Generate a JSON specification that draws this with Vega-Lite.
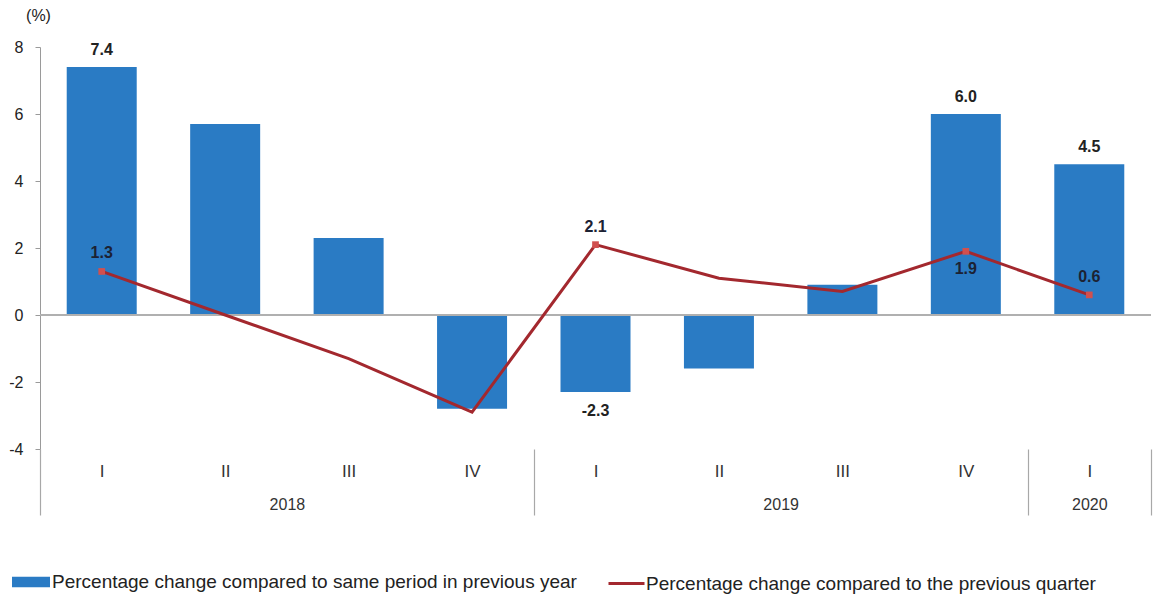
{
  "$schema": "https://vega.github.io/schema/vega-lite/v6.json",
  "width": 1111,
  "height": 402,
  "autosize": {"type": "none"},
  "padding": {"left": 40, "top": 47, "right": 2, "bottom": 146},
  "background": "white",
  "config": {
    "view": {"stroke": null},
    "font": "Liberation Sans",
    "axisY": {
      "grid": false,
      "domainColor": "#9a9a9a",
      "tickColor": "#9a9a9a",
      "tickSize": 5,
      "labelFontSize": 16,
      "labelColor": "#222222",
      "labelPadding": 12,
      "labelExpr": "'' + datum.value",
      "titleAngle": 0,
      "titleAlign": "center",
      "titleBaseline": "middle",
      "titleX": -2,
      "titleY": -32,
      "titleFontSize": 16,
      "titleFontWeight": "normal",
      "titleColor": "#222222"
    },
    "legend": {"padding": 0, "labelFont": "Liberation Sans", "labelFontSize": 19, "labelColor": "#222222", "labelLimit": 0}
  },
  "data": {
    "values": [
      {"idx": 1, "year": 2018, "quarter": "I", "yoy": 7.4, "qoq": 1.3, "yoy_label": "7.4", "qoq_label": "1.3"},
      {"idx": 2, "year": 2018, "quarter": "II", "yoy": 5.7, "qoq": 0.0, "yoy_label": null, "qoq_label": null},
      {"idx": 3, "year": 2018, "quarter": "III", "yoy": 2.3, "qoq": -1.3, "yoy_label": null, "qoq_label": null},
      {"idx": 4, "year": 2018, "quarter": "IV", "yoy": -2.8, "qoq": -2.9, "yoy_label": null, "qoq_label": null},
      {"idx": 5, "year": 2019, "quarter": "I", "yoy": -2.3, "qoq": 2.1, "yoy_label": "-2.3", "qoq_label": "2.1"},
      {"idx": 6, "year": 2019, "quarter": "II", "yoy": -1.6, "qoq": 1.1, "yoy_label": null, "qoq_label": null},
      {"idx": 7, "year": 2019, "quarter": "III", "yoy": 0.9, "qoq": 0.7, "yoy_label": null, "qoq_label": null},
      {"idx": 8, "year": 2019, "quarter": "IV", "yoy": 6.0, "qoq": 1.9, "yoy_label": "6.0", "qoq_label": "1.9"},
      {"idx": 9, "year": 2020, "quarter": "I", "yoy": 4.5, "qoq": 0.6, "yoy_label": "4.5", "qoq_label": "0.6"}
    ]
  },
  "resolve": {"axis": {"x": "independent"}},
  "layer": [
    {
      "mark": {"type": "bar", "width": 70},
      "encoding": {
        "x": {
          "field": "idx", "type": "quantitative",
          "scale": {"domain": [0.5, 9.5], "nice": false, "zero": false, "padding": 0},
          "axis": {
            "orient": "bottom",
            "values": [1, 2, 3, 4, 5, 6, 7, 8, 9],
            "labelExpr": "['I','II','III','IV','I','II','III','IV','I'][datum.value - 1]",
            "ticks": false, "tickSize": 0, "domain": false, "grid": false,
            "labelPadding": 14, "labelFontSize": 17, "labelColor": "#333333",
            "labelFlush": false, "labelOverlap": false, "title": null
          }
        },
        "y": {
          "field": "yoy", "type": "quantitative", "title": "(%)",
          "scale": {"domain": [-4, 8], "nice": false},
          "axis": {"values": [-4, -2, 0, 2, 4, 6, 8]}
        },
        "fill": {
          "datum": "Percentage change compared to same period in previous year",
          "scale": {"range": ["#2a7bc4"]},
          "legend": {
            "orient": "none", "legendX": -28, "legendY": 516,
            "symbolType": "M-1,-0.27H1V0.27H-1Z", "symbolSize": 1444,
            "symbolStrokeWidth": 0, "labelOffset": 2, "title": null
          }
        }
      }
    },
    {
      "mark": {"type": "rule", "color": "#b0b0b0", "strokeWidth": 1.5},
      "encoding": {"y": {"datum": 0, "type": "quantitative", "title": "(%)"}}
    },
    {
      "mark": {"type": "line", "strokeWidth": 3},
      "encoding": {
        "x": {
          "field": "idx", "type": "quantitative",
          "axis": {
            "orient": "bottom",
            "values": [0.5, 4.5, 8.5, 9.5], "labels": false, "domain": false, "grid": false,
            "ticks": true, "tickSize": 66, "tickColor": "#a8a8a8", "tickWidth": 1.2, "title": null
          }
        },
        "y": {"field": "qoq", "type": "quantitative", "title": "(%)"},
        "stroke": {
          "datum": "Percentage change compared to the previous quarter",
          "scale": {"range": ["#a3282e"]},
          "legend": {
            "orient": "none", "legendX": 567, "legendY": 517,
            "symbolType": "stroke", "symbolSize": 1296, "symbolStrokeWidth": 3,
            "labelOffset": 0, "title": null
          }
        }
      }
    },
    {
      "transform": [{"filter": "isValid(datum.qoq_label)"}],
      "mark": {"type": "point", "shape": "square", "filled": true, "size": 45, "color": "#d0504f", "opacity": 1},
      "encoding": {
        "x": {
          "field": "idx", "type": "quantitative",
          "axis": {
            "orient": "bottom",
            "values": [2.5, 6.5, 9],
            "labelExpr": "datum.value < 4 ? '2018' : (datum.value < 8 ? '2019' : '2020')",
            "ticks": false, "tickSize": 0, "domain": false, "grid": false,
            "labelPadding": 47, "labelFontSize": 16, "labelColor": "#333333",
            "labelFlush": false, "labelOverlap": false, "title": null
          }
        },
        "y": {"field": "qoq", "type": "quantitative", "title": "(%)"}
      }
    },
    {
      "transform": [{"filter": "isValid(datum.yoy_label) && datum.yoy > 0"}],
      "mark": {"type": "text", "baseline": "bottom", "dy": -9, "fontSize": 16, "fontWeight": "bold", "color": "#222222"},
      "encoding": {
        "x": {"field": "idx", "type": "quantitative", "axis": null},
        "y": {"field": "yoy", "type": "quantitative", "title": "(%)"},
        "text": {"field": "yoy_label"}
      }
    },
    {
      "transform": [{"filter": "isValid(datum.yoy_label) && datum.yoy < 0"}],
      "mark": {"type": "text", "baseline": "top", "dy": 11, "fontSize": 16, "fontWeight": "bold", "color": "#222222"},
      "encoding": {
        "x": {"field": "idx", "type": "quantitative", "axis": null},
        "y": {"field": "yoy", "type": "quantitative", "title": "(%)"},
        "text": {"field": "yoy_label"}
      }
    },
    {
      "transform": [{"filter": "isValid(datum.qoq_label) && !(datum.year == 2019 && datum.quarter == 'IV')"}],
      "mark": {"type": "text", "baseline": "bottom", "dy": -10, "fontSize": 16, "fontWeight": "bold", "color": "#1c2233"},
      "encoding": {
        "x": {"field": "idx", "type": "quantitative", "axis": null},
        "y": {"field": "qoq", "type": "quantitative", "title": "(%)"},
        "text": {"field": "qoq_label"}
      }
    },
    {
      "transform": [{"filter": "datum.year == 2019 && datum.quarter == 'IV'"}],
      "mark": {"type": "text", "baseline": "top", "dy": 10, "fontSize": 16, "fontWeight": "bold", "color": "#1c2233"},
      "encoding": {
        "x": {"field": "idx", "type": "quantitative", "axis": null},
        "y": {"field": "qoq", "type": "quantitative", "title": "(%)"},
        "text": {"field": "qoq_label"}
      }
    }
  ]
}
